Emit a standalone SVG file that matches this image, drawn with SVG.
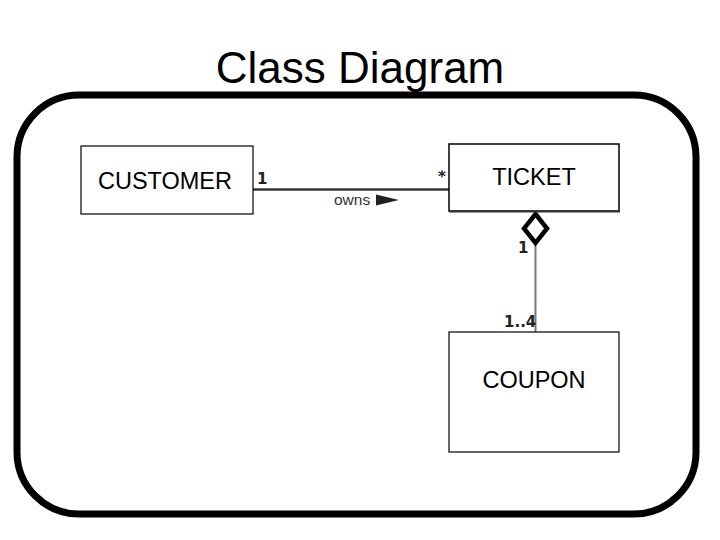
<svg xmlns="http://www.w3.org/2000/svg" width="720" height="540" viewBox="0 0 720 540">
<style>
.box{fill:#fff;stroke:#000;stroke-width:1.2}
.lbl{font-family:"Liberation Sans",Arial,sans-serif;font-size:23.5px;fill:#000;text-anchor:middle}
.mult{font-family:"DejaVu Sans",sans-serif;font-size:15px;font-weight:bold;fill:#222}
</style>
<rect width="720" height="540" fill="#fff"/>
<text x="360" y="83" font-family="Liberation Sans, Arial, sans-serif" font-size="44" text-anchor="middle">Class Diagram</text>
<rect x="17" y="95" width="679" height="419" rx="62" ry="62" fill="none" stroke="#000" stroke-width="7"/>
<g id="connectors">
  <line x1="253" y1="189.5" x2="449" y2="189.5" stroke="#333" stroke-width="2.5"/>
  <line x1="535.5" y1="243" x2="535.5" y2="332" stroke="#777" stroke-width="2"/>
  <polygon points="535.5,214 547,228.5 535.5,243 524,228.5" fill="#fff" stroke="#000" stroke-width="4.5" stroke-linejoin="miter"/>
  <polygon points="376,194.5 399,200 376,205.5" fill="#222"/>
  <text x="334" y="205" font-family="Liberation Sans, Arial, sans-serif" font-size="15.5" fill="#333">owns</text>
  <text x="257" y="184" class="mult">1</text>
  <text x="438" y="182" class="mult">*</text>
  <text x="518" y="253" class="mult">1</text>
  <text x="504" y="327" class="mult">1..4</text>
</g>
<g id="customer">
  <rect class="box" x="81" y="146" width="172" height="68"/>
  <text class="lbl" x="165" y="189">CUSTOMER</text>
</g>
<g id="ticket">
  <rect class="box" x="449" y="144" width="170" height="67" style="stroke-width:1.5"/>
  <line x1="449" y1="211.5" x2="620" y2="211.5" stroke="#333" stroke-width="2"/>
  <text class="lbl" x="534" y="185">TICKET</text>
</g>
<g id="coupon">
  <rect class="box" x="449" y="332" width="170" height="120"/>
  <text class="lbl" x="534" y="388">COUPON</text>
</g>
</svg>
